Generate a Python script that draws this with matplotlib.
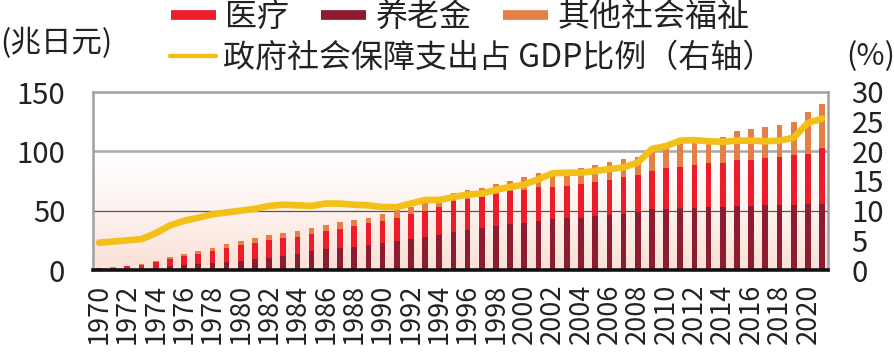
import numpy as np
import matplotlib
matplotlib.use("Agg")
import matplotlib.pyplot as plt
from matplotlib.lines import Line2D

plt.rcParams['font.family'] = ['Noto Sans CJK SC', 'DejaVu Sans']

years = list(range(1970, 2022))
pension = [0.6, 0.7, 1.0, 1.3, 2.0, 3.0, 3.8, 4.8, 5.8, 6.6, 7.5, 9.0, 10.5, 11.8, 13.7, 15.8, 18.0,
           18.5, 19.3, 20.8, 23.0, 24.4, 25.8, 27.8, 29.5, 32.0, 34.0, 35.8, 37.5, 38.8, 39.7, 41.4,
           42.8, 43.4, 44.0, 45.3, 46.0, 47.0, 49.0, 51.0, 51.5, 52.0, 52.5, 53.5, 53.5, 54.0, 54.0,
           54.5, 55.0, 55.0, 55.5, 55.5]
medical = [0.9, 1.3, 2.0, 2.7, 4.6, 6.3, 7.6, 8.8, 10.3, 11.9, 13.3, 14.0, 15.0, 15.3, 14.1, 14.8, 14.9,
           16.4, 17.6, 18.9, 18.4, 19.8, 21.5, 22.0, 23.7, 26.0, 25.7, 25.9, 26.2, 27.7, 27.7, 28.3,
           27.4, 27.6, 28.5, 28.7, 29.8, 31.0, 31.0, 32.7, 34.5, 35.0, 36.0, 36.5, 36.7, 38.8, 39.0,
           39.5, 40.0, 41.5, 42.5, 47.5]
other = [0.3, 0.4, 0.5, 0.7, 1.2, 1.6, 2.0, 2.3, 2.7, 3.1, 3.4, 3.7, 4.0, 4.1, 5.1, 4.6, 5.1,
         5.4, 5.1, 4.5, 5.6, 6.2, 5.9, 7.2, 7.3, 7.0, 7.7, 7.6, 8.5, 8.8, 10.7, 11.8,
         13.3, 13.5, 13.8, 14.8, 15.0, 15.3, 15.0, 18.3, 18.7, 20.5, 21.0, 20.5, 22.3, 24.2, 26.0,
         26.8, 27.2, 28.2, 35.0, 36.5]
ratio = [4.6, 4.8, 5.0, 5.2, 6.2, 7.5, 8.3, 8.8, 9.4, 9.7, 10.0, 10.3, 10.8, 11.0, 10.9, 10.8, 11.2,
         11.2, 11.0, 10.9, 10.6, 10.6, 11.2, 11.8, 11.8, 12.3, 12.7, 12.9, 13.5, 14.0, 14.4, 15.3,
         16.3, 16.4, 16.4, 16.7, 17.0, 17.3, 18.1, 20.4, 20.9, 21.8, 21.9, 21.7, 21.6, 21.8, 21.8,
         21.7, 21.8, 22.3, 24.8, 25.5]
xtick_years = list(range(1970, 2021, 2))
left_ticks = [0, 50, 100, 150]
right_ticks = [0, 5, 10, 15, 20, 25, 30]

names = ['医疗', '养老金', '其他社会福祉', '政府社会保障支出占 GDP比例（右轴）']
c_med = '#ec1c2a'
c_pen = '#8e1b30'
c_oth = '#e48045'
c_line = '#f3c01a'

fig = plt.figure(figsize=(8.95, 3.52), dpi=100)
ax = fig.add_axes([93/895, 82/352, 735/895, 178/352])

# gradient background
h = 200
yy = np.linspace(1, 0, h)
t = np.clip((0.68 - yy) / 0.68, 0, 1) ** 1.3
top = np.array([1.0, 1.0, 1.0])
bot = np.array([251, 224, 214]) / 255
grad = (top[None, :] * (1 - t[:, None]) + bot[None, :] * t[:, None])
grad = np.repeat(grad[:, None, :], 2, axis=1)
ax.imshow(grad, extent=[0, 1, 0, 1], transform=ax.transAxes, aspect='auto', zorder=0)

x = np.array(years)
w = 0.4
pen = np.array(pension)
med = np.array(medical)
oth = np.array(other)
ax.bar(x, pen, width=w, color=c_pen, zorder=3)
ax.bar(x, med, width=w, bottom=pen, color=c_med, zorder=3)
ax.bar(x, oth, width=w, bottom=pen + med, color=c_oth, zorder=3)

ax.set_xlim(1969.58, 2021.42)
ax.set_ylim(0, 150)
ax.axhline(100, color='#a8a8a8', lw=1.8, zorder=2)
ax.axhline(50, color='#555555', lw=0.9, zorder=2)

for s in ['top', 'left', 'right']:
    ax.spines[s].set_color('#a0a0a0')
    ax.spines[s].set_linewidth(1.8)
ax.spines['bottom'].set_color('#111111')
ax.spines['bottom'].set_linewidth(2.6)
ax.spines['bottom'].set_zorder(5)

ax.set_yticks(left_ticks)
ax.set_yticklabels([str(v) for v in left_ticks], fontsize=21, color='#222222')
ax.set_xticks(xtick_years)
ax.set_xticklabels([str(v) for v in xtick_years], rotation=90, fontsize=19.5, color='#222222')
ax.tick_params(axis='both', length=0)
ax.tick_params(axis='y', pad=20)
ax.tick_params(axis='x', pad=10)

ax2 = ax.twinx()
ax2.plot(x, ratio, color=c_line, lw=4.8, solid_joinstyle='round', solid_capstyle='round', zorder=4)
ax2.set_ylim(0, 30)
ax2.set_yticks(right_ticks)
ax2.set_yticklabels([str(v) for v in right_ticks], fontsize=21, color='#222222')
ax2.tick_params(axis='y', length=0, pad=17)
for s in ax2.spines.values():
    s.set_visible(False)

fig.text(0.0, 1 - 43/352, '(兆日元)', fontsize=22, va='center', ha='left', color='#222222')
fig.text(1.0, 1 - 57/352, '(%)', fontsize=22, va='center', ha='right', color='#222222')

h1 = [Line2D([], [], color=c_med, lw=7, solid_capstyle='butt'),
      Line2D([], [], color=c_pen, lw=7, solid_capstyle='butt'),
      Line2D([], [], color=c_oth, lw=7, solid_capstyle='butt')]
leg1 = fig.legend(h1, names[:3], loc='center left', bbox_to_anchor=(171/895, 1 - 17/352), ncol=3,
                  frameon=False, fontsize=23, handlelength=1.4, handletextpad=0.3,
                  columnspacing=1.0, borderpad=0, borderaxespad=0)
h2 = [Line2D([], [], color=c_line, lw=3.2, solid_capstyle='round')]
leg2 = fig.legend(h2, names[3:], loc='center left', bbox_to_anchor=(170/895, 1 - 58/352),
                  frameon=False, fontsize=23, handlelength=1.45, handletextpad=0.2,
                  borderpad=0, borderaxespad=0)
for leg in (leg1, leg2):
    for txt in leg.get_texts():
        txt.set_color('#222222')

fig.savefig('out.png', dpi=100)
